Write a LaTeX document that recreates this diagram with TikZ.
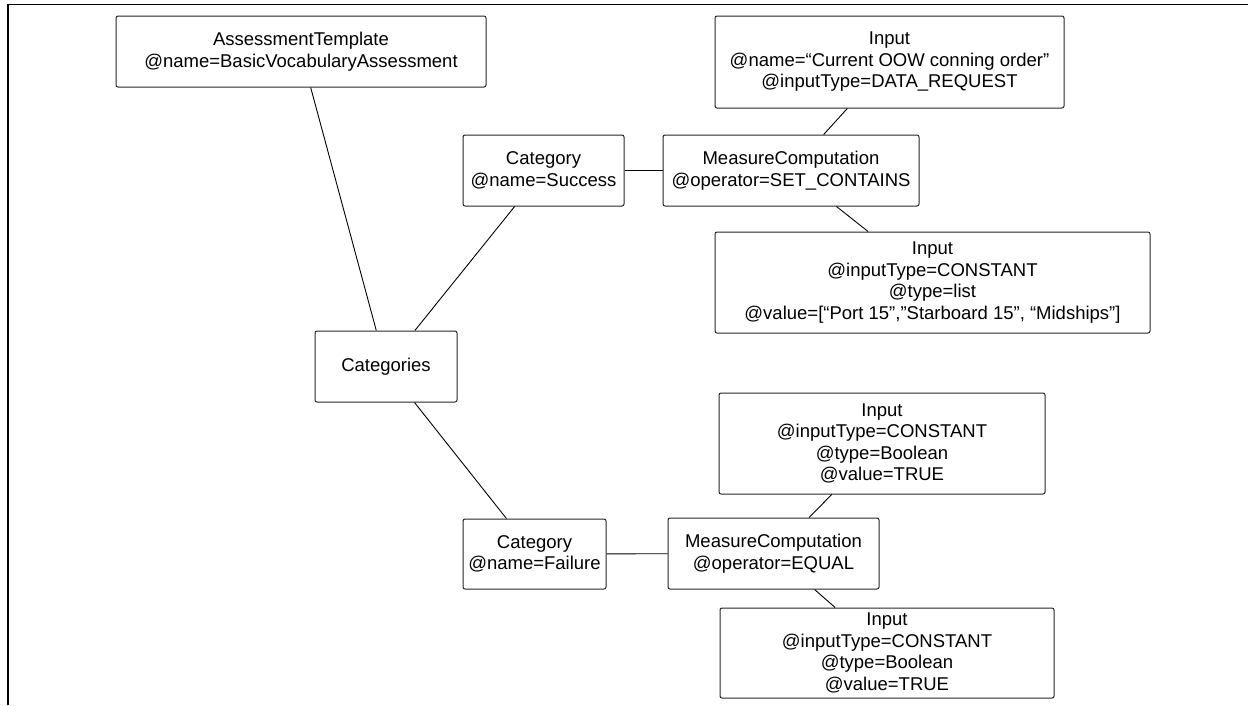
\documentclass[tikz,border=0pt]{standalone}
\usepackage{fontspec}
\setmainfont{Liberation Sans}
\usepackage{tikz}
\newcommand{\boxFont}{\fontsize{18.5}{21.5}\selectfont}
\newcommand{\boolInput}{Input\\@inputType=CONSTANT\\@type=Boolean\\@value=TRUE}

\begin{document}
\begin{tikzpicture}[x=1pt,y=-1pt,%%
  boxStyle/.style={draw=black!85,line width=1pt,rounded corners=2pt,%%
    align=center,inner sep=0pt,font=\boxFont},%%
  lineStyle/.style={-,line width=0.9pt},%%
  frameStyle/.style={-,line width=1.3pt}
]
%%
%% Fix the page size.
\useasboundingbox (0,0) rectangle (1252,705);
\draw[frameStyle] (8,705) -- (8,4.5) -- (1248,4.5);
%%
%% The template and its categories.
\node[boxStyle,minimum width=370,minimum height=71] (template) at (301,51.5)
  {AssessmentTemplate\\@name=BasicVocabularyAssessment};
\node[boxStyle,minimum width=142,minimum height=71] (categories) at (386,366.5)
  {Categories};
%%
%% Category: success.
\node[boxStyle,minimum width=161,minimum height=71] (success) at (543.5,170.5)
  {Category\\@name=Success};
\node[boxStyle,minimum width=256,minimum height=71] (mcSuccess) at (791,170.5)
  {MeasureComputation\\@operator=SET\_CONTAINS};
\node[boxStyle,minimum width=349,minimum height=92] (inputOow) at (889.5,62)
  {Input\\@name=“Current OOW conning order”\\@inputType=DATA\_REQUEST};
\node[boxStyle,minimum width=435,minimum height=101] (inputList) at (932.5,282.5)
  {Input\\@inputType=CONSTANT\\@type=list\\@value=[“Port 15”,”Starboard 15”, “Midships”]};
%%
%% Category: failure.
\node[boxStyle,minimum width=143,minimum height=70] (failure) at (534.5,554)
  {Category\\@name=Failure};
\node[boxStyle,minimum width=211,minimum height=71] (mcFailure) at (773.5,553.5)
  {MeasureComputation\\@operator=EQUAL};
\node[boxStyle,minimum width=326,minimum height=101] (inputTrueA) at (882,443.5)
  {\boolInput};
\node[boxStyle,minimum width=334,minimum height=90] (inputTrueB) at (887,653)
  {\boolInput};
%%
%% Connectors.
\draw[lineStyle] (template) -- (categories);
\draw[lineStyle] (categories) -- (success);
\draw[lineStyle] (categories) -- (failure);
\draw[lineStyle] (success) -- (mcSuccess);
\draw[lineStyle] (mcSuccess) -- (inputOow);
\draw[lineStyle] (mcSuccess) -- (inputList);
\draw[lineStyle] (failure) -- (mcFailure);
\draw[lineStyle] (mcFailure) -- (inputTrueA);
\draw[lineStyle] (mcFailure) -- (inputTrueB);

\end{tikzpicture}
\end{document}
